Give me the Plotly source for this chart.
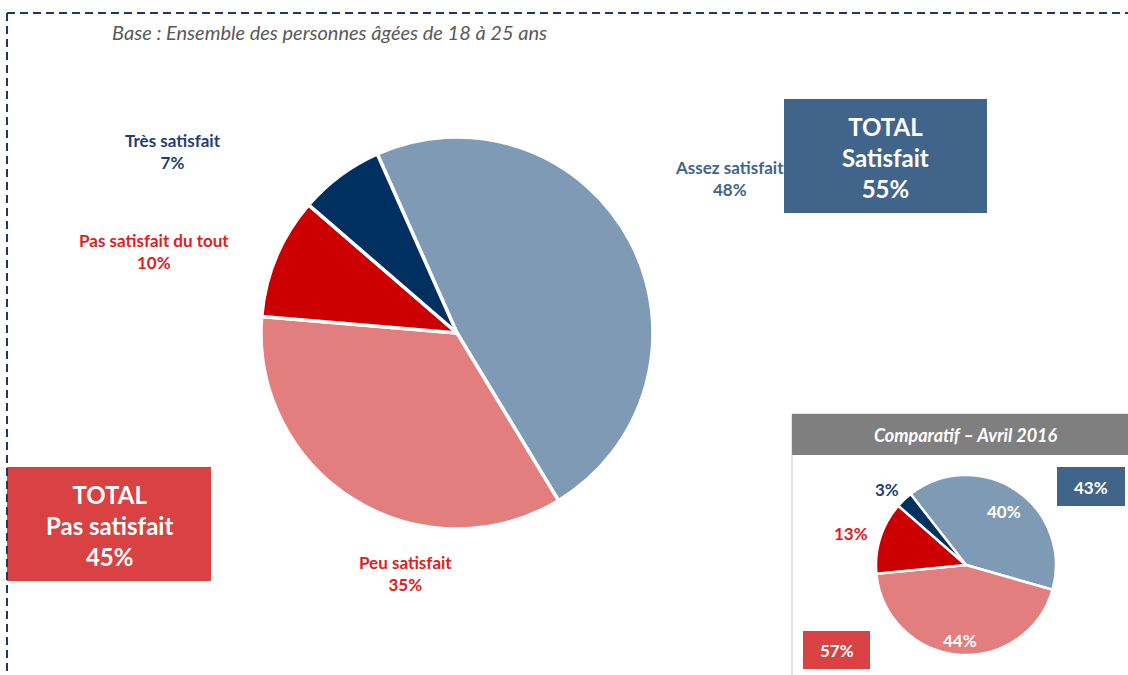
import plotly.graph_objects as go

W, H = 1128, 675

categories = ["Assez satisfait", "Peu satisfait", "Pas satisfait du tout", "Très satisfait"]
values_now = [48, 35, 10, 7]
values_2016 = [40, 44, 13, 3]
total_satisfait = [55, 43]      # actuel, avril 2016
total_pas_satisfait = [45, 57]

slice_colors = ["#7F9AB5", "#E37E7E", "#CC0000", "#00305F"]
label_colors = ["#41658A", "#E0201E", "#E0201E", "#1F3F6F"]
BLUE_BOX = "#41658A"
RED_BOX = "#DA4143"


def px(x):
    return x / W


def py(y):
    return 1 - y / H


fig = go.Figure()

# main pie
fig.add_trace(go.Pie(
    labels=categories, values=values_now, sort=False, direction="clockwise",
    rotation=-24, textinfo="none", hoverinfo="label+percent",
    marker=dict(colors=slice_colors, line=dict(color="white", width=3.5)),
    domain=dict(x=[px(261), px(653)], y=[py(529), py(137)]),
    showlegend=False,
))

# small comparison pie
fig.add_trace(go.Pie(
    labels=categories, values=values_2016, sort=False, direction="clockwise",
    rotation=-38, textinfo="none", hoverinfo="label+percent",
    marker=dict(colors=slice_colors, line=dict(color="white", width=2.5)),
    domain=dict(x=[px(876), px(1056)], y=[py(655), py(475)]),
    showlegend=False,
))

shapes = [
    # dashed frame
    dict(type="line", x0=px(7), x1=px(1128), y0=py(13), y1=py(13),
         line=dict(color="#1F3864", width=2, dash="8px,5px")),
    dict(type="line", x0=px(7), x1=px(7), y0=py(13), y1=py(675),
         line=dict(color="#1F3864", width=2, dash="8px,5px")),
    # total boxes
    dict(type="rect", x0=px(784), x1=px(987), y0=py(99), y1=py(213),
         fillcolor=BLUE_BOX, line=dict(width=0), layer="below"),
    dict(type="rect", x0=px(7), x1=px(211), y0=py(467), y1=py(581),
         fillcolor=RED_BOX, line=dict(width=0), layer="below"),
    # comparison box
    dict(type="rect", x0=px(792), x1=px(1130), y0=py(414), y1=py(680),
         fillcolor="white", line=dict(color="#C8C8C8", width=1), layer="below"),
    dict(type="rect", x0=px(792), x1=px(1130), y0=py(414), y1=py(455),
         fillcolor="#7F7F7F", line=dict(width=0), layer="below"),
    dict(type="rect", x0=px(1057), x1=px(1125), y0=py(467), y1=py(506),
         fillcolor=BLUE_BOX, line=dict(width=0), layer="below"),
    dict(type="rect", x0=px(803), x1=px(870), y0=py(631), y1=py(669),
         fillcolor=RED_BOX, line=dict(width=0), layer="below"),
]

ann = []


def note(x, y, text, size, color, bold=True, italic=False, xanchor="center"):
    t = text
    if bold:
        t = "<b>" + t + "</b>"
    if italic:
        t = "<i>" + t + "</i>"
    ann.append(dict(x=px(x), y=py(y), xref="paper", yref="paper", text=t,
                    showarrow=False, xanchor=xanchor, yanchor="middle",
                    font=dict(size=size, color=color, family="Lato")))


note(110, 32, "Base : Ensemble des personnes âgées de 18 à 25 ans", 20, "#595959",
     bold=False, italic=True, xanchor="left")

# main pie labels
main_label_pos = [(729, 178), (405, 573), (154, 252), (173, 151)]
for cat, v, c, (x, y) in zip(categories, values_now, label_colors, main_label_pos):
    note(x, y, f"{cat}<br>{v}%", 17, c)

note(885, 157, f"TOTAL<br>Satisfait<br>{total_satisfait[0]}%", 24, "white")
note(109, 525, f"TOTAL<br>Pas satisfait<br>{total_pas_satisfait[0]}%", 24, "white")

# comparison
note(966, 435, "Comparatif – Avril 2016", 18, "white", italic=True)
small_label_pos = [(1004, 511), (960, 640), (851, 533), (887, 489)]
small_label_col = ["white", "white", "#E0201E", "#1F3F6F"]
for v, c, (x, y) in zip(values_2016, small_label_col, small_label_pos):
    note(x, y, f"{v}%", 17, c)
note(1091, 487, f"{total_satisfait[1]}%", 17, "white")
note(837, 650, f"{total_pas_satisfait[1]}%", 17, "white")

fig.update_layout(
    width=W, height=H, margin=dict(l=0, r=0, t=0, b=0),
    paper_bgcolor="white", plot_bgcolor="white",
    shapes=shapes, annotations=ann,
    font=dict(family="Lato"),
)

fig.write_html("out.html", config={"displayModeBar": False},
               post_script="document.body.style.margin='0';")
